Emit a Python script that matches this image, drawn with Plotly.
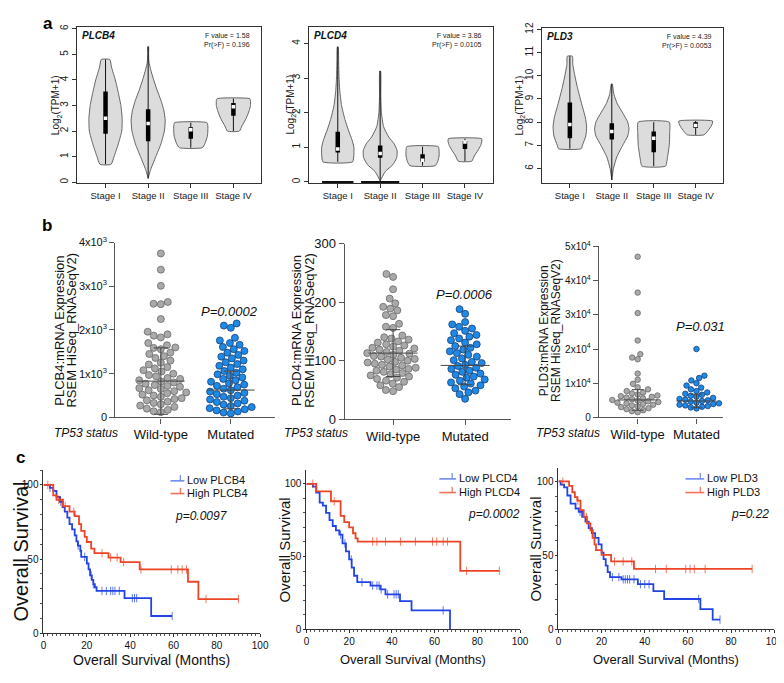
import plotly.graph_objects as go

W, H = 784, 683
FONT = "Arial, Liberation Sans, sans-serif"
NARROW = "Liberation Sans Narrow, Arial Narrow, Arial, sans-serif"

# ---------------- panel a: violin profiles (value levels / half widths) ----------------
stages = ["Stage I", "Stage II", "Stage III", "Stage IV"]

plcb4_levels = [
    [0.7, 1.0, 1.5, 2.0, 2.5, 3.0, 3.5, 4.0, 4.5, 4.8],
    [0.15, 0.5, 1.0, 1.5, 2.0, 2.4, 2.8, 3.2, 3.6, 4.0, 4.4, 4.7, 5.0, 5.3],
    [1.35, 1.5, 1.8, 2.0, 2.2, 2.33],
    [2.0, 2.2, 2.5, 2.8, 3.0, 3.2, 3.27],
]
plcb4_widths = [
    [0.13, 0.2, 0.3, 0.38, 0.39, 0.36, 0.3, 0.23, 0.14, 0.1],
    [0.0, 0.06, 0.18, 0.3, 0.38, 0.4, 0.37, 0.3, 0.21, 0.13, 0.06, 0.02, 0.01, 0.01],
    [0.27, 0.33, 0.39, 0.4, 0.4, 0.38],
    [0.14, 0.2, 0.3, 0.37, 0.4, 0.4, 0.38],
]
plcb4_q1 = [1.9, 1.6, 1.7, 2.6]
plcb4_med = [2.5, 2.3, 2.05, 2.95]
plcb4_q3 = [3.55, 2.85, 2.15, 3.1]

plcd4_levels = [
    [0.58, 0.8, 1.0, 1.2, 1.5, 1.8, 2.2, 2.6, 3.0, 3.5, 3.9],
    [0.03, 0.3, 0.5, 0.7, 0.9, 1.1, 1.3, 1.6, 2.0, 2.5, 3.2],
    [0.47, 0.6, 0.75, 0.9, 1.02],
    [0.6, 0.75, 0.9, 1.05, 1.18, 1.25],
]
plcd4_widths = [
    [0.35, 0.38, 0.38, 0.34, 0.25, 0.17, 0.09, 0.05, 0.03, 0.02, 0.01],
    [0.0, 0.12, 0.3, 0.39, 0.4, 0.33, 0.2, 0.08, 0.03, 0.015, 0.01],
    [0.3, 0.36, 0.39, 0.39, 0.37],
    [0.16, 0.22, 0.3, 0.37, 0.4, 0.39],
]
plcd4_zero_w = [0.37, 0.45, 0, 0]
plcd4_q1 = [0.85, 0.7, 0.58, 0.95]
plcd4_med = [0.95, 0.82, 0.63, 1.15]
plcd4_q3 = [1.45, 1.05, 0.8, 1.18]

pld3_levels = [
    [6.85, 7.0, 7.4, 7.8, 8.2, 8.6, 9.0, 9.5, 10.0, 10.5, 10.85],
    [5.5, 6.0, 6.5, 7.0, 7.4, 7.7, 8.0, 8.4, 8.8, 9.2, 9.65],
    [6.1, 6.5, 7.0, 7.5, 8.0],
    [7.45, 7.6, 7.8, 7.95, 8.05],
]
pld3_widths = [
    [0.27, 0.3, 0.38, 0.4, 0.37, 0.31, 0.25, 0.18, 0.12, 0.07, 0.06],
    [0.0, 0.04, 0.12, 0.26, 0.38, 0.41, 0.38, 0.26, 0.13, 0.05, 0.01],
    [0.28, 0.33, 0.37, 0.38, 0.37],
    [0.2, 0.28, 0.36, 0.4, 0.4],
]
pld3_q1 = [7.3, 7.25, 6.7, 7.75]
pld3_med = [7.9, 7.6, 7.3, 7.85]
pld3_q3 = [8.85, 7.95, 7.6, 8.0]

anova_f = ["1.58", "3.86", "4.39"]
anova_p = ["0.196", "0.0105", "0.0053"]

# ---------------- panel b: expression by TP53 status ----------------
groups = ["Wild-type", "Mutated"]

wt_plcb4 = [3750, 3380, 3010, 2640, 2600, 2590, 2250, 1960, 1900, 1870, 1830, 1700, 1650, 1600,
            1590, 1560, 1480, 1450, 1400, 1360, 1300, 1250, 1210, 1150, 1120, 1080, 1050, 1000,
            970, 940, 900, 880, 850, 820, 800, 770, 740, 720, 700, 670, 650, 620, 600, 570, 550,
            520, 500, 470, 440, 420, 390, 360, 330, 300, 270, 240, 200, 170, 140, 120]
mut_plcb4 = [2150, 2100, 2050, 1820, 1760, 1700, 1660, 1610, 1560, 1520, 1480, 1430, 1390, 1350,
             1300, 1260, 1220, 1180, 1140, 1100, 1060, 1020, 985, 950, 915, 880, 850, 815, 780,
             750, 720, 690, 655, 620, 590, 560, 530, 500, 470, 440, 410, 380, 350, 320, 290, 260,
             235, 210, 185, 160, 135, 110, 90]
mean_plcb4 = [830, 625]
sd_plcb4 = [760, 430]

wt_plcd4 = [248, 243, 222, 206, 198, 192, 189, 186, 178, 176, 163, 158, 156, 143, 140, 138, 136,
            133, 131, 128, 126, 124, 122, 121, 119, 117, 115, 113, 112, 110, 108, 107, 105, 103,
            102, 100, 98, 97, 95, 93, 92, 90, 88, 86, 85, 83, 81, 79, 77, 75, 73, 71, 69, 66, 64,
            61, 58, 55, 50, 48]
mut_plcd4 = [188, 180, 166, 162, 158, 155, 151, 147, 144, 141, 138, 135, 131, 128, 125, 122, 119,
             116, 113, 110, 107, 104, 101, 98, 96, 93, 91, 88, 86, 83, 81, 78, 76, 73, 71, 68,
             66, 63, 61, 58, 56, 53, 49, 46, 43, 35]
mean_plcd4 = [113, 92]
sd_plcd4 = [40, 33]

wt_pld3 = [47000, 36500, 30500, 22500, 18500, 17500, 17000, 12800, 11000, 9800, 8800, 8200, 7700,
           7300, 7000, 6700, 6400, 6200, 6000, 5800, 5600, 5300, 5100, 4900, 4700, 4500,
           4300, 4100, 3900, 3700, 3500, 3200, 3000, 2700, 2400, 2100, 1800, 1500]
mut_pld3 = [20000, 12200, 11500, 10800, 10000, 9300, 8700, 8200, 7700, 7300, 6900, 6600, 6300,
            6000, 5700, 5400, 5200, 5000, 4800, 4600, 4300, 4100, 3900, 3700, 3500, 3300,
            3100, 2900, 2600]
mean_pld3 = [5100, 4800]
sd_pld3 = [3000, 2000]

p_tp53 = ["P=0.0002", "P=0.0006", "P=0.031"]

# ---------------- panel c: Kaplan-Meier ----------------
t_low1 = [0, 3, 4.5, 6, 7.6, 8.8, 9.8, 11, 12, 13.2, 14.4, 15.2, 15.9, 17, 17.4, 20, 20.8, 21.5,
          22.3, 23, 23.7, 24.5, 37.4, 49.7]
s_low1 = [100, 98, 96, 92, 88.6, 85, 82, 78, 73.6, 70, 66, 62, 59, 55.6, 51.5, 47, 43, 39, 36, 33,
          31, 28.5, 23.7, 11.6]
cens_low1 = [3, 8, 16, 19, 22, 23, 27, 29, 31, 32, 33, 35, 41, 42, 43, 59.4]
t_high1 = [0, 4.5, 6, 9, 12, 14.4, 16.4, 17.4, 19, 20, 22, 23.5, 30, 35.6, 44.4, 66.7, 71.5]
s_high1 = [100, 93, 90, 85.7, 82, 79, 73.6, 69, 65, 61.5, 57, 54, 51, 48, 43, 34.7, 23]
cens_high1 = [2, 7, 10, 14, 27, 31, 34, 37, 45, 59, 62, 64, 66, 75, 90]

t_low2 = [0, 3, 4.6, 6.2, 7.7, 9.2, 10.8, 12.3, 13.8, 15.4, 16.9, 18.5, 20, 21.2, 22.3, 23.8, 30,
          34.6, 37, 43.8, 49.2, 67.2]
s_low2 = [100, 98, 94, 87, 85, 80, 75, 71, 68, 65, 59, 53.6, 48, 42.4, 36.8, 32.4, 30, 27.5, 24,
          19.4, 13, 0]
cens_low2 = [16, 18, 21, 26, 31, 33, 34, 35, 38, 41, 42, 43, 64]
t_high2 = [0, 4.6, 11.5, 16, 17.7, 20, 21.8, 23, 24, 72]
s_high2 = [100, 94.8, 88, 78, 73.7, 70, 66, 62.5, 60.3, 40.2]
cens_high2 = [3, 13, 31, 33, 37, 44, 51, 59, 61, 64, 66, 75, 90.3]

t_low3 = [0, 1, 2.6, 4.1, 5.6, 7.9, 9.4, 11, 12.5, 14, 15.5, 17, 18.6, 20, 20.9, 21.9, 22.8, 23.9,
          29.2, 36.8, 44, 49, 65.8, 71.5]
s_low3 = [100, 97.8, 96, 90.5, 85, 81.7, 79.5, 76, 72.8, 68.4, 65, 61.8, 57.4, 51.9, 47.5, 43,
          38.6, 35.3, 33.8, 30.5, 25.8, 20.5, 13.7, 6.6]
cens_low3 = [10, 16, 25, 28, 30, 31, 32, 33, 35, 38, 40, 42, 65, 74.9]
t_high3 = [0, 4.9, 6.4, 7.6, 8.7, 10.2, 11.7, 13.2, 14.8, 15.8, 16.7, 17.4, 20, 24.4, 35]
s_high3 = [100, 97, 92.7, 89.4, 87, 80.6, 76, 71.7, 67, 61.8, 57.4, 53.6, 50.3, 45.9, 40.8]
cens_high3 = [2, 9, 13, 26, 30, 34, 45, 50, 59, 61, 63, 68, 89.8]

km_genes = ["PLCB4", "PLCD4", "PLD3"]
km_p = ["p=0.0097", "p=0.0002", "p=0.22"]

BLUE = "#2244e6"
RED = "#ee4426"
BLUE_KEY = "#6f8af0"
RED_KEY = "#f2715a"


def xd(l, r):
    return [l / W, r / W]


def yd(top, bot):
    return [1 - bot / H, 1 - top / H]


def px(x):
    return x / W


def py(y):
    return 1 - y / H


def note(x, y, text, size, **kw):
    d = dict(x=px(x), y=py(y), xref="paper", yref="paper", text=text, showarrow=False,
             xanchor="center", yanchor="middle",
             font=dict(size=size, color=kw.pop("color", "#111"), family=kw.pop("family", FONT)))
    d.update(kw)
    return d


fig = go.Figure()
annotations = []
shapes = []

# ---------------- panel a ----------------
a_panels = [
    ("PLCB4", plcb4_levels, plcb4_widths, plcb4_q1, plcb4_med, plcb4_q3, None,
     (67, 254), (11, 171), [-0.03, 6.08], [0, 1, 2, 3, 4, 5, 6], 46),
    ("PLCD4", plcd4_levels, plcd4_widths, plcd4_q1, plcd4_med, plcd4_q3, plcd4_zero_w,
     (303, 489), (11, 171), [-0.03, 4.48], [0, 1, 2, 3, 4], 284),
    ("PLD3", pld3_levels, pld3_widths, pld3_q1, pld3_med, pld3_q3, None,
     (539, 723), (12, 171), [5.37, 12.08], [6, 7, 8, 9, 10, 11, 12], 517),
]

for k, (gene, levels, widths, q1, med, q3, zero_w, xr, yr, yrange, yticks, ytx) in enumerate(a_panels):
    n = k + 1
    xa, ya = ("x", "y") if n == 1 else (f"x{n}", f"y{n}")
    for i in range(4):
        pos = i + 1
        lv, wd = levels[i], widths[i]
        xs = [pos + w for w in wd] + [pos - w for w in wd[::-1]] + [pos + wd[0]]
        ys = lv + lv[::-1] + [lv[0]]
        fig.add_trace(go.Scatter(x=xs, y=ys, mode="lines", fill="toself", fillcolor="#dcdcdc",
                                 line=dict(color="#555555", width=0.9, shape="spline", smoothing=0.5),
                                 xaxis=xa, yaxis=ya, hoverinfo="skip"))
        if zero_w is not None and zero_w[i] > 0:
            fig.add_trace(go.Scatter(x=[pos - zero_w[i], pos + zero_w[i]], y=[0, 0], mode="lines",
                                     line=dict(color="#111111", width=2), xaxis=xa, yaxis=ya,
                                     hoverinfo="skip"))
        fig.add_trace(go.Scatter(x=[pos, pos], y=[lv[0], lv[-1]], mode="lines",
                                 line=dict(color="#111111", width=1), xaxis=xa, yaxis=ya,
                                 hoverinfo="skip"))
        fig.add_trace(go.Scatter(x=[pos, pos], y=[q1[i], q3[i]], mode="lines",
                                 line=dict(color="#000000", width=4.5), xaxis=xa, yaxis=ya,
                                 hoverinfo="skip"))
        fig.add_trace(go.Scatter(x=[pos], y=[med[i]], mode="markers",
                                 marker=dict(color="white", size=3.5, symbol="square"),
                                 xaxis=xa, yaxis=ya, hoverinfo="skip"))
    axis_x = dict(domain=xd(*xr), range=[0.33, 4.65], tickvals=[1, 2, 3, 4], ticktext=stages,
                  ticks="outside", ticklen=4, tickcolor="#333", showline=True, mirror=True,
                  linecolor="#333", linewidth=1, showgrid=False, zeroline=False,
                  tickfont=dict(size=9.5, color="#222"), anchor=ya, fixedrange=True)
    axis_y = dict(domain=yd(*yr), range=yrange, tickvals=yticks, ticks="outside", ticklen=4,
                  tickcolor="#333", tickangle=-90, showline=True, mirror=True, linecolor="#333",
                  linewidth=1, showgrid=False, zeroline=False, tickfont=dict(size=10, color="#222"),
                  anchor=xa, fixedrange=True)
    fig.layout["xaxis" if n == 1 else f"xaxis{n}"] = axis_x
    fig.layout["yaxis" if n == 1 else f"yaxis{n}"] = axis_y
    annotations.append(note(ytx, (yr[0] + yr[1]) / 2, "Log<sub>2</sub>(TPM+1)", 10,
                            textangle=-90, color="#222"))
    annotations.append(note(xr[0] + 3, yr[0] + 1, f"<b><i>{gene}</i></b>", 10,
                            xanchor="left", yanchor="top"))
    annotations.append(note(xr[1] - 9, yr[0] + 3, f"F value = {anova_f[k]}<br>Pr(>F) = {anova_p[k]}",
                            7, xanchor="right", yanchor="top", align="right", color="#222"))


# ---------------- panel b ----------------
def swarm(vals, ppu_y, d):
    placed = []
    offs = [0.0] * len(vals)
    order = sorted(range(len(vals)), key=lambda i: vals[i])
    for i in order:
        y = vals[i] * ppu_y
        cands = [0.0]
        blocks = []
        for yy, xx in placed:
            dy = abs(y - yy)
            if dy < d:
                dx = (d * d - dy * dy) ** 0.5
                blocks.append((xx - dx, xx + dx))
                cands += [xx - dx, xx + dx]
        ok = [c for c in cands if all(not (a + 1e-6 < c < b - 1e-6) for a, b in blocks)]
        best = min(ok, key=lambda c: (abs(c), c))
        placed.append((y, best))
        offs[i] = best
    return offs


b_panels = [
    ("PLCB4", wt_plcb4, mut_plcb4, mean_plcb4, sd_plcb4, (106, 268), (232, 411), 4000,
     [0, 1000, 2000, 3000, 4000],
     ["0", "1x10<sup>3</sup>", "2x10<sup>3</sup>", "3x10<sup>3</sup>", "4x10<sup>3</sup>"],
     7, [-0.65, 1.63], 11, (49, 61), 13, (76, 427), (222, 303)),
    ("PLCD4", wt_plcd4, mut_plcd4, mean_plcd4, sd_plcd4, (339, 508), (233, 413), 300,
     [0, 100, 200, 300], ["0", "100", "200", "300"],
     7, [-0.67, 1.64], 13, (290, 303), 13, (310, 427), (461, 285)),
    ("PLD3", wt_pld3, mut_pld3, mean_pld3, sd_pld3, (597, 723), (236, 411), 50000,
     [0, 10000, 20000, 30000, 40000, 50000],
     ["0", "1x10<sup>4</sup>", "2x10<sup>4</sup>", "3x10<sup>4</sup>", "4x10<sup>4</sup>", "5x10<sup>4</sup>"],
     5.5, [-0.66, 1.45], 10, (542, 554), 12, (566, 427), (700, 318)),
]

for k, (gene, wt, mut, means, sds, xr, yr, ymax, yt, ytt, dsz, xrange, tfs, ttl_x, ttl_fs, tp_pos, p_pos) in enumerate(b_panels):
    n = k + 4
    xa, ya = f"x{n}", f"y{n}"
    ppu_y = (yr[1] - yr[0]) / ymax
    ppu_x = (xr[1] - xr[0]) / (xrange[1] - xrange[0])
    for g, (vals, fc, lc) in enumerate([(wt, "#a9a9a9", "#6a6a6a"), (mut, "#1f8ae6", "#16407a")]):
        offs = swarm(vals, ppu_y, dsz + 0.4)
        fig.add_trace(go.Scatter(x=[g + o / ppu_x for o in offs], y=vals, mode="markers",
                                 marker=dict(size=dsz, color=fc, line=dict(color=lc, width=0.8)),
                                 xaxis=xa, yaxis=ya, cliponaxis=False, hoverinfo="skip"))
        m, s = means[g], sds[g]
        for xs, ys in [([g - 0.34, g + 0.34], [m, m]), ([g, g], [max(m - s, 0), m + s]),
                       ([g - 0.1, g + 0.1], [m + s, m + s]), ([g - 0.1, g + 0.1], [max(m - s, 0)] * 2)]:
            fig.add_trace(go.Scatter(x=xs, y=ys, mode="lines", line=dict(color="#444", width=1),
                                     xaxis=xa, yaxis=ya, hoverinfo="skip"))
    fig.layout[f"xaxis{n}"] = dict(domain=xd(*xr), range=xrange, tickvals=[0, 1], ticktext=groups,
                                   ticks="outside", ticklen=5, tickcolor="#555", showline=True,
                                   linecolor="#555", linewidth=1.3, showgrid=False, zeroline=False,
                                   tickfont=dict(size=13, color="#111"), anchor=ya, fixedrange=True)
    fig.layout[f"yaxis{n}"] = dict(domain=yd(*yr), range=[0, ymax], tickvals=yt, ticktext=ytt,
                                   ticks="outside", ticklen=5, tickcolor="#555", showline=True,
                                   linecolor="#555", linewidth=1.3, showgrid=False, zeroline=False,
                                   tickfont=dict(size=tfs, color="#111"), anchor=xa, fixedrange=True)
    annotations.append(note(ttl_x[0], 322, f"{gene}:mRNA Expression", ttl_fs, textangle=-90))
    annotations.append(note(ttl_x[1], 322, "RSEM HiSeq_RNASeqV2)", ttl_fs, textangle=-90))
    annotations.append(note(tp_pos[0], tp_pos[1], "<i>TP53 status</i>", 12))
    annotations.append(note(p_pos[0], p_pos[1], f"<i>{p_tp53[k]}</i>", 13, family=NARROW))


# ---------------- panel c ----------------
def km_points(t, s, cens):
    pts = [(t[i], s[i], 0) for i in range(len(t))]
    for c in cens:
        idx = max(i for i in range(len(t)) if t[i] <= c)
        pts.append((c, s[idx], 1))
    pts.sort(key=lambda p: (p[0], p[2]))
    return [p[0] for p in pts], [p[1] for p in pts], [6 if p[2] else 0 for p in pts]


c_panels = [
    (t_low1, s_low1, cens_low1, t_high1, s_high1, cens_high1, (33, 253), (465, 632), 110,
     (10, 20), (162, 177, 476, 489), (193, 512), 14),
    (t_low2, s_low2, cens_low2, t_high2, s_high2, cens_high2, (300, 517), (465, 628), 109.4,
     (278, 15), (435, 453, 474, 488), (490, 510), 13),
    (t_low3, s_low3, cens_low3, t_high3, s_high3, cens_high3, (556, 775), (463, 628), 109,
     (533, 15), (685, 705, 474, 488), (750, 510), 13),
]

for k, (tl, sl, cl, th, sh, ch, xr, yr, ytop, ytitle, leg, ppos, xfs) in enumerate(c_panels):
    n = k + 7
    xa, ya = f"x{n}", f"y{n}"
    for t, s, c, col in [(tl, sl, cl, BLUE), (th, sh, ch, RED)]:
        xs, ys, sz = km_points(t, s, c)
        fig.add_trace(go.Scatter(x=xs, y=ys, mode="lines+markers",
                                 line=dict(color=col, width=1.8, shape="hv"),
                                 marker=dict(symbol="line-ns", size=sz, color=col,
                                             line=dict(color=col, width=1)),
                                 xaxis=xa, yaxis=ya, cliponaxis=False, hoverinfo="skip"))
    fig.layout[f"xaxis{n}"] = dict(domain=xd(*xr), range=[0, 100], dtick=20, ticks="outside",
                                   ticklen=3, tickcolor="#333", showline=True, linecolor="#333",
                                   linewidth=1, showgrid=False, zeroline=False,
                                   minor=dict(ticks="outside", dtick=2, ticklen=2, tickcolor="#555"),
                                   tickfont=dict(size=10, color="#111"), anchor=ya, fixedrange=True)
    fig.layout[f"yaxis{n}"] = dict(domain=yd(*yr), range=[0, ytop], tickvals=[0, 50, 100],
                                   ticks="outside", ticklen=2, tickcolor="#333", showline=True,
                                   linecolor="#333", linewidth=1, showgrid=False, zeroline=False,
                                   minor=dict(ticks="outside", dtick=10, ticklen=2, tickcolor="#555"),
                                   tickfont=dict(size=10, color="#111"), anchor=xa, fixedrange=True)
    # legend keys: line with a censor tick, then the label
    lx0, ltx, ly_low, ly_high = leg
    for ly, col, lab in [(ly_low, BLUE_KEY, f"Low {km_genes[k]}"), (ly_high, RED_KEY, f"High {km_genes[k]}")]:
        shapes.append(dict(type="line", xref="paper", yref="paper", x0=px(lx0), x1=px(ltx - 1),
                           y0=py(ly), y1=py(ly), line=dict(color=col, width=1.6)))
        shapes.append(dict(type="line", xref="paper", yref="paper", x0=px(ltx - 5), x1=px(ltx - 5),
                           y0=py(ly), y1=py(ly - 6), line=dict(color=col, width=1.2)))
        annotations.append(note(ltx, ly - 1, lab, 11, xanchor="left", yanchor="middle"))
    annotations.append(note(ytitle[0], (yr[0] + yr[1]) / 2, "Overall Survival", ytitle[1],
                            textangle=-90))
    annotations.append(note((xr[0] + xr[1]) / 2, 659, "Overall Survival (Months)", xfs))
    annotations.append(note(ppos[0], ppos[1], f"<i>{km_p[k]}</i>", 12, family=NARROW))

for lab, x, y in [("a", 38, 8), ("b", 37, 215), ("c", 10, 452)]:
    annotations.append(note(x, y, f"<b>{lab}</b>", 17, color="#000"))

fig.update_layout(width=W, height=H, margin=dict(l=0, r=0, t=0, b=0), showlegend=False,
                  paper_bgcolor="white", plot_bgcolor="white",
                  font=dict(family=FONT, color="#111"), annotations=annotations, shapes=shapes)

fig.write_html("out.html")
